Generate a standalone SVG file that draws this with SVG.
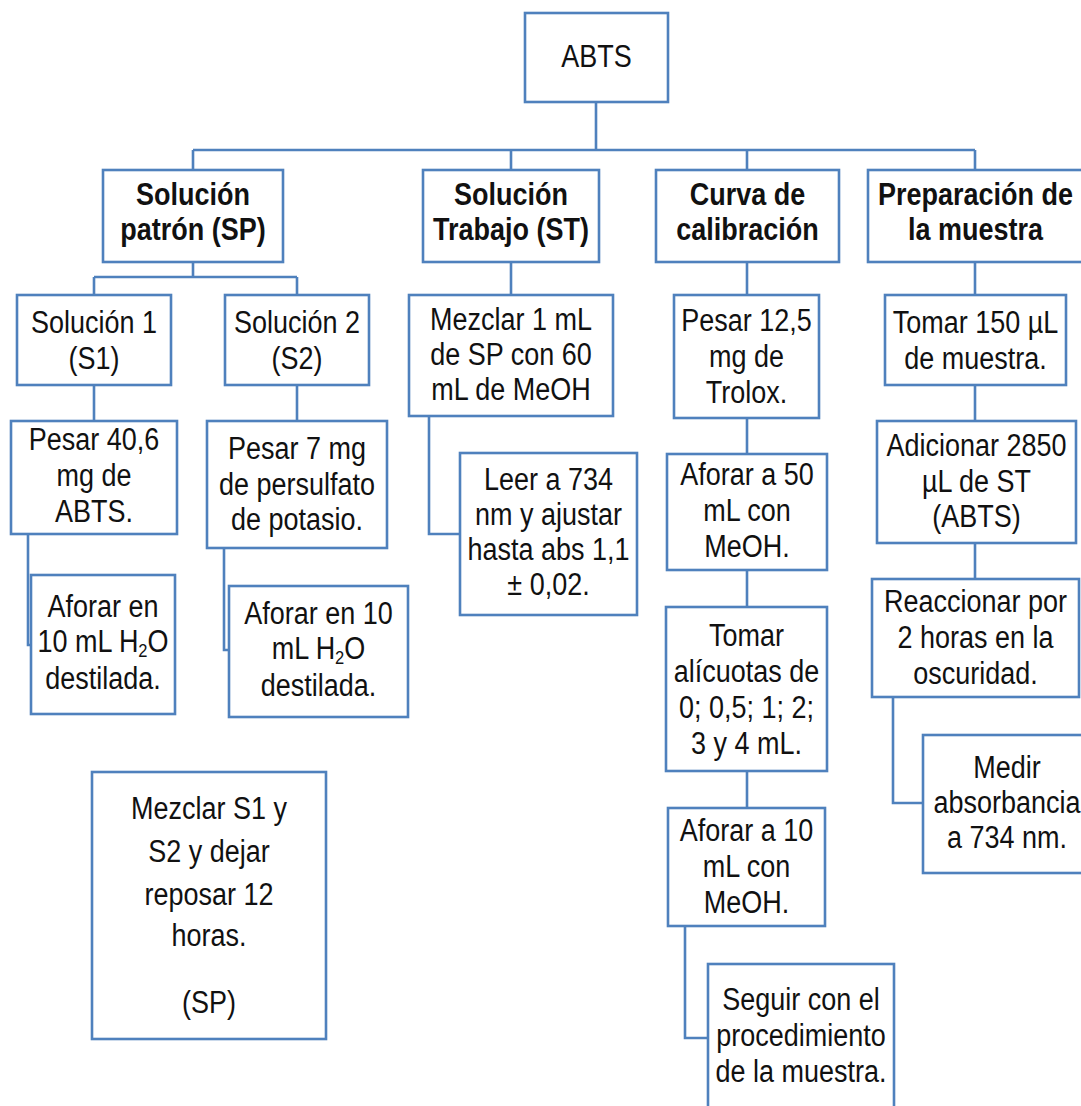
<svg xmlns="http://www.w3.org/2000/svg" width="1081" height="1106" viewBox="0 0 1081 1106">
  <style>
    .box { fill: #ffffff; stroke: #4F81BD; stroke-width: 2.6; }
    .t { font-family: "Liberation Sans", Arial, sans-serif; font-size: 31px; fill: #111111; text-anchor: middle; }
    .b { font-weight: bold; }
    .sub { font-size: 19px; }
    #connectors path { fill: none; stroke: #4F81BD; stroke-width: 2.6; }
  </style>
  <rect width="1081" height="1106" fill="#ffffff"/>

  <!-- connectors -->
  <g id="connectors">
    <path d="M596 102 V150 M193 150 H975 M193 150 V170 M511 150 V170 M747 150 V170 M975 150 V170"/>
    <!-- Solución patrón -->
    <path d="M193 262 V277 M94 277 H297 M94 277 V295 M297 277 V295"/>
    <path d="M94 385 V421 M297 385 V421"/>
    <path d="M28 534 V645 H31"/>
    <path d="M224 548 V650 H229"/>
    <!-- Solución Trabajo -->
    <path d="M511 262 V295"/>
    <path d="M429 416 V534 H460"/>
    <!-- Curva de calibración -->
    <path d="M747 262 V295 M747 418 V454 M747 570 V607 M747 771 V808"/>
    <path d="M685 926 V1038 H708"/>
    <!-- Preparación de la muestra -->
    <path d="M975 262 V295 M975 385 V421 M975 543 V579"/>
    <path d="M893 697 V803 H923"/>
  </g>

  <!-- root -->
  <g id="abts">
    <rect class="box" x="525" y="13" width="143" height="89"/>
    <g transform="translate(596.5 0) scale(0.87 1)"><text class="t" x="0" y="67">ABTS</text></g>
  </g>

  <!-- level 1 -->
  <g id="solucion-patron">
    <rect class="box" x="103" y="170" width="180" height="92"/>
    <g transform="translate(193 0) scale(0.87 1)">
      <text class="t b" x="0" y="205">Solución</text>
      <text class="t b" x="0" y="240">patrón (SP)</text>
    </g>
  </g>
  <g id="solucion-trabajo">
    <rect class="box" x="423" y="170" width="176" height="92"/>
    <g transform="translate(511 0) scale(0.87 1)">
      <text class="t b" x="0" y="205">Solución</text>
      <text class="t b" x="0" y="240">Trabajo (ST)</text>
    </g>
  </g>
  <g id="curva-calibracion">
    <rect class="box" x="656" y="170" width="183" height="92"/>
    <g transform="translate(747.5 0) scale(0.87 1)">
      <text class="t b" x="0" y="205">Curva de</text>
      <text class="t b" x="0" y="240">calibración</text>
    </g>
  </g>
  <g id="preparacion-muestra">
    <rect class="box" x="868" y="170" width="215" height="92"/>
    <g transform="translate(975.5 0) scale(0.87 1)">
      <text class="t b" x="0" y="205">Preparación de</text>
      <text class="t b" x="0" y="240">la muestra</text>
    </g>
  </g>

  <!-- Solución patrón branch -->
  <g id="solucion-1">
    <rect class="box" x="17" y="295" width="154" height="90"/>
    <g transform="translate(94 0) scale(0.87 1)">
      <text class="t" x="0" y="333">Solución 1</text>
      <text class="t" x="0" y="369">(S1)</text>
    </g>
  </g>
  <g id="solucion-2">
    <rect class="box" x="225" y="295" width="144" height="90"/>
    <g transform="translate(297 0) scale(0.87 1)">
      <text class="t" x="0" y="333">Solución 2</text>
      <text class="t" x="0" y="369">(S2)</text>
    </g>
  </g>
  <g id="pesar-abts">
    <rect class="box" x="11" y="421" width="166" height="113"/>
    <g transform="translate(94 0) scale(0.87 1)">
      <text class="t" x="0" y="450">Pesar 40,6</text>
      <text class="t" x="0" y="486">mg de</text>
      <text class="t" x="0" y="522">ABTS.</text>
    </g>
  </g>
  <g id="pesar-persulfato">
    <rect class="box" x="207" y="421" width="180" height="127"/>
    <g transform="translate(297 0) scale(0.87 1)">
      <text class="t" x="0" y="459">Pesar 7 mg</text>
      <text class="t" x="0" y="495">de persulfato</text>
      <text class="t" x="0" y="530">de potasio.</text>
    </g>
  </g>
  <g id="aforar-s1">
    <rect class="box" x="31" y="575" width="144" height="139"/>
    <g transform="translate(103 0) scale(0.87 1)">
      <text class="t" x="0" y="617">Aforar en</text>
      <text class="t" x="0" y="652">10 mL H<tspan class="sub" dy="5">2</tspan><tspan dy="-5">O</tspan></text>
      <text class="t" x="0" y="689">destilada.</text>
    </g>
  </g>
  <g id="aforar-s2">
    <rect class="box" x="229" y="586" width="179" height="131"/>
    <g transform="translate(318.5 0) scale(0.87 1)">
      <text class="t" x="0" y="624">Aforar en 10</text>
      <text class="t" x="0" y="659">mL H<tspan class="sub" dy="5">2</tspan><tspan dy="-5">O</tspan></text>
      <text class="t" x="0" y="696">destilada.</text>
    </g>
  </g>
  <g id="mezclar-s1-s2">
    <rect class="box" x="92" y="772" width="234" height="267"/>
    <g transform="translate(209 0) scale(0.87 1)">
      <text class="t" x="0" y="819">Mezclar S1 y</text>
      <text class="t" x="0" y="862">S2 y dejar</text>
      <text class="t" x="0" y="905">reposar 12</text>
      <text class="t" x="0" y="946">horas.</text>
      <text class="t" x="0" y="1013">(SP)</text>
    </g>
  </g>

  <!-- Solución Trabajo branch -->
  <g id="mezclar-sp">
    <rect class="box" x="409" y="295" width="204" height="121"/>
    <g transform="translate(511 0) scale(0.87 1)">
      <text class="t" x="0" y="330">Mezclar 1 mL</text>
      <text class="t" x="0" y="365">de SP con 60</text>
      <text class="t" x="0" y="400">mL de MeOH</text>
    </g>
  </g>
  <g id="leer-734">
    <rect class="box" x="460" y="453" width="177" height="162"/>
    <g transform="translate(548.5 0) scale(0.87 1)">
      <text class="t" x="0" y="490">Leer a 734</text>
      <text class="t" x="0" y="525">nm y ajustar</text>
      <text class="t" x="0" y="560">hasta abs 1,1</text>
      <text class="t" x="0" y="595">± 0,02.</text>
    </g>
  </g>

  <!-- Curva de calibración branch -->
  <g id="pesar-trolox">
    <rect class="box" x="674" y="295" width="145" height="123"/>
    <g transform="translate(746.5 0) scale(0.87 1)">
      <text class="t" x="0" y="331">Pesar 12,5</text>
      <text class="t" x="0" y="367">mg de</text>
      <text class="t" x="0" y="403">Trolox.</text>
    </g>
  </g>
  <g id="aforar-50">
    <rect class="box" x="667" y="454" width="160" height="116"/>
    <g transform="translate(747 0) scale(0.87 1)">
      <text class="t" x="0" y="485">Aforar a 50</text>
      <text class="t" x="0" y="521">mL con</text>
      <text class="t" x="0" y="557">MeOH.</text>
    </g>
  </g>
  <g id="tomar-alicuotas">
    <rect class="box" x="666" y="607" width="161" height="164"/>
    <g transform="translate(746.5 0) scale(0.87 1)">
      <text class="t" x="0" y="646">Tomar</text>
      <text class="t" x="0" y="682">alícuotas de</text>
      <text class="t" x="0" y="718">0; 0,5; 1; 2;</text>
      <text class="t" x="0" y="754">3 y 4 mL.</text>
    </g>
  </g>
  <g id="aforar-10">
    <rect class="box" x="668" y="808" width="157" height="118"/>
    <g transform="translate(746.5 0) scale(0.87 1)">
      <text class="t" x="0" y="841">Aforar a 10</text>
      <text class="t" x="0" y="877">mL con</text>
      <text class="t" x="0" y="913">MeOH.</text>
    </g>
  </g>
  <g id="seguir-procedimiento">
    <rect class="box" x="708" y="964" width="186" height="160"/>
    <g transform="translate(801 0) scale(0.87 1)">
      <text class="t" x="0" y="1010">Seguir con el</text>
      <text class="t" x="0" y="1046">procedimiento</text>
      <text class="t" x="0" y="1082">de la muestra.</text>
    </g>
  </g>

  <!-- Preparación de la muestra branch -->
  <g id="tomar-150">
    <rect class="box" x="885" y="295" width="181" height="90"/>
    <g transform="translate(975.5 0) scale(0.87 1)">
      <text class="t" x="0" y="333">Tomar 150 µL</text>
      <text class="t" x="0" y="369">de muestra.</text>
    </g>
  </g>
  <g id="adicionar-st">
    <rect class="box" x="877" y="421" width="199" height="122"/>
    <g transform="translate(976.5 0) scale(0.87 1)">
      <text class="t" x="0" y="456">Adicionar 2850</text>
      <text class="t" x="0" y="492">µL de ST</text>
      <text class="t" x="0" y="527">(ABTS)</text>
    </g>
  </g>
  <g id="reaccionar">
    <rect class="box" x="872" y="579" width="207" height="118"/>
    <g transform="translate(975.5 0) scale(0.87 1)">
      <text class="t" x="0" y="612">Reaccionar por</text>
      <text class="t" x="0" y="648">2 horas en la</text>
      <text class="t" x="0" y="684">oscuridad.</text>
    </g>
  </g>
  <g id="medir-absorbancia">
    <rect class="box" x="923" y="735" width="168" height="138"/>
    <g transform="translate(1007 0) scale(0.87 1)">
      <text class="t" x="0" y="778">Medir</text>
      <text class="t" x="0" y="813">absorbancia</text>
      <text class="t" x="0" y="848">a 734 nm.</text>
    </g>
  </g>
</svg>
